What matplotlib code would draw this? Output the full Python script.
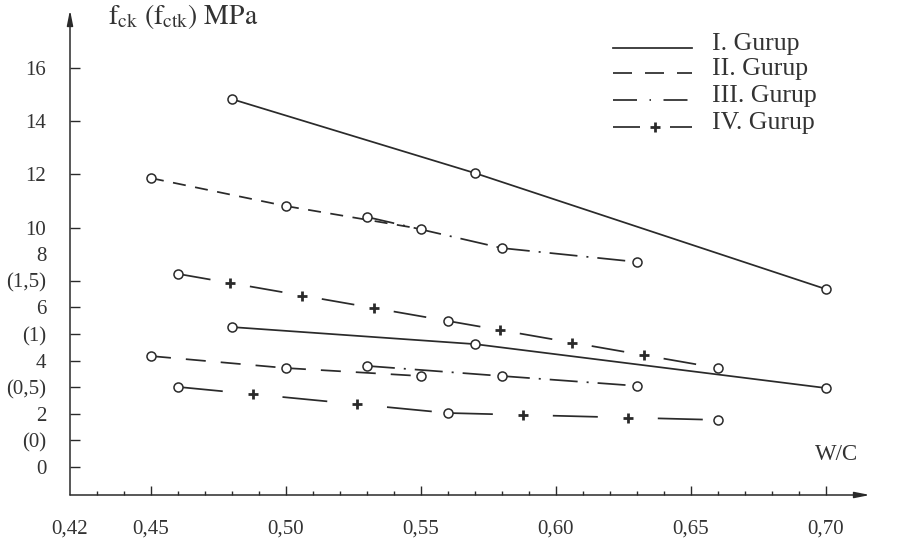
import numpy as np
import matplotlib
matplotlib.use('Agg')
import matplotlib.pyplot as plt
from matplotlib.lines import Line2D
from matplotlib.ticker import FixedLocator

plt.rcParams['font.family'] = ['Liberation Serif', 'DejaVu Serif']
plt.rcParams['mathtext.fontset'] = 'stix'
plt.rcParams['lines.scale_dashes'] = False

# ---------------- data ----------------
groups = ['I. Gurup', 'II. Gurup', 'III. Gurup', 'IV. Gurup']

wc_I = [0.48, 0.57, 0.70]
wc_II = [0.45, 0.50, 0.55]
wc_III = [0.53, 0.58, 0.63]
wc_IV = [0.46, 0.56, 0.66]

# y values in axis grid units (one unit = one small division of the y axis)
I_upper = [13.83, 11.05, 6.69]
I_lower = [5.26, 4.62, 2.97]
II_upper = [10.86, 9.81, 8.95]
II_lower = [4.17, 3.72, 3.42]
III_upper = [9.40, 8.23, 7.71]
III_lower = [3.80, 3.42, 3.05]
IV_upper = [7.26, 5.49, 3.72]
IV_lower = [3.01, 2.03, 1.77]

ytick_pos = [0, 1, 2, 3, 4, 5, 6, 7, 8, 9, 11, 13, 15]
ytick_labels = ['0', '(0)', '2', '(0,5)', '4', '(1)', '6', '(1,5)', '8',
                '10', '12', '14', '16']
xtick_major = [0.42, 0.45, 0.50, 0.55, 0.60, 0.65, 0.70]
xtick_labels = ['0,42', '0,45', '0,50', '0,55', '0,60', '0,65', '0,70']
xtick_minor = [0.43, 0.44, 0.46, 0.47, 0.48, 0.49, 0.51, 0.52, 0.53, 0.54,
               0.56, 0.57, 0.58, 0.59, 0.61, 0.62, 0.63, 0.64, 0.66, 0.67,
               0.68, 0.69]

y_title = r'$\mathrm{f_{ck}\ (f_{ctk})\ MPa}$'
x_title = 'W/C'

# ---------------- figure ----------------
W, H = 911, 547
LC = '#2a2a2a'
TC = '#333333'
PT = 0.72  # px -> pt at dpi 100

fig = plt.figure(figsize=(W / 100, H / 100), dpi=100)
fig.patch.set_facecolor('white')

x0px, ybot, ytop, xright = 70, 495, 10, 870
ax = fig.add_axes([x0px / W, (H - ybot) / H, (xright - x0px) / W, (ybot - ytop) / H])
ax.set_facecolor('none')
ax.set_xlim(0.42, 0.42 + (xright - x0px) / 2699.0)
ax.set_ylim((467 - ybot) / 26.6, (467 - ytop) / 26.6)
for s in ax.spines.values():
    s.set_visible(False)

# axes with arrows
for tip in [(1, 0), (0, 1)]:
    ax.annotate('', xy=tip, xytext=(0, 0), xycoords='axes fraction',
                arrowprops=dict(arrowstyle='-|>,head_length=0.9,head_width=0.18',
                                color=LC, lw=1.1, shrinkA=0, shrinkB=0,
                                mutation_scale=10))

# ticks
ax.set_xticks(xtick_major)
ax.set_xticklabels(xtick_labels)
ax.xaxis.set_minor_locator(FixedLocator(xtick_minor))
ax.set_yticks(ytick_pos)
ax.set_yticklabels(ytick_labels)
ax.tick_params(axis='x', which='major', direction='in', length=6.5, width=1,
               color=LC, pad=18, labelsize=15, labelcolor=TC)
ax.tick_params(axis='x', which='minor', direction='in', length=3, width=1,
               color=LC)
ax.tick_params(axis='y', which='major', direction='in', length=7, width=1,
               color=LC, pad=17, labelsize=15, labelcolor=TC)
ax.xaxis.get_major_ticks()[0].tick1line.set_visible(False)
ax.yaxis.get_major_ticks()[ytick_labels.index('8')].tick1line.set_visible(False)

LW = 1.25


def circles(x, y):
    ax.plot(x, y, 'o', ms=6.5, mfc='white', mec=LC, mew=1.1, zorder=5,
            clip_on=False)


def draw_segments(x, y, dashes):
    for i in range(len(x) - 1):
        ax.plot(x[i:i + 2], y[i:i + 2], color=LC, lw=LW,
                linestyle=(0, tuple(d * PT for d in dashes)),
                dash_capstyle='butt', zorder=3)


def draw_plus(x, y, on, off):
    pts = ax.transData.transform(np.column_stack([x, y]))
    out = []
    for p0, p1 in zip(pts[:-1], pts[1:]):
        L = np.hypot(*(p1 - p0))
        s = on + off / 2.0
        while s < L - on / 2.0:
            out.append(p0 + (p1 - p0) * s / L)
            s += on + off
    out = ax.transData.inverted().transform(np.array(out))
    ax.plot(out[:, 0], out[:, 1], '+', ms=7, mew=2.0, color=LC, zorder=4)


# I. Gurup (solid)
for yv in (I_upper, I_lower):
    ax.plot(wc_I, yv, color=LC, lw=LW, zorder=3)
    circles(wc_I, yv)

# II. Gurup (dashed)
draw_segments(wc_II, II_upper, (13, 9.5))
draw_segments(wc_II, II_lower, (20, 15))
circles(wc_II, II_upper)
circles(wc_II, II_lower)

# III. Gurup (dash-dot)
for yv in (III_upper, III_lower):
    draw_segments(wc_III, yv, (28, 9, 2, 9))
    circles(wc_III, yv)

# IV. Gurup (dash with plus)
draw_segments(wc_IV, IV_upper, (33, 40))
draw_plus(wc_IV, IV_upper, 33, 40)
draw_segments(wc_IV, IV_lower, (45, 60))
draw_plus(wc_IV, IV_lower, 45, 60)
circles(wc_IV, IV_upper)
circles(wc_IV, IV_lower)

# ---------------- legend (drawn by hand) ----------------
def fx(px):
    return px / W


def fy(py):
    return 1 - py / H


leg_rows = [48, 73, 100, 127]
leg_styles = [None, (19, 13), (24, 12.5, 1.5, 12.5), (27, 30)]
for lab, yy, st in zip(groups, leg_rows, leg_styles):
    ls = '-' if st is None else (0, tuple(d * PT for d in st))
    fig.add_artist(Line2D([fx(613), fx(692)], [fy(yy), fy(yy)],
                          transform=fig.transFigure, color=LC, lw=LW,
                          linestyle=ls, dash_capstyle='butt'))
    fig.text(fx(712), fy(yy + 2), lab, fontsize=18.5, color=TC,
             va='baseline', ha='left')
fig.add_artist(Line2D([fx(655)], [fy(leg_rows[3])], transform=fig.transFigure,
                      marker='+', ms=7, mew=2.0, color=LC, linestyle='none'))

# titles
fig.text(fx(108), fy(24), y_title, fontsize=20, color=TC, va='baseline',
         ha='left')
fig.text(fx(837), fy(455), x_title, fontsize=16.5, color=TC, va='center',
         ha='center')

fig.savefig('out.png', dpi=100, facecolor='white')
